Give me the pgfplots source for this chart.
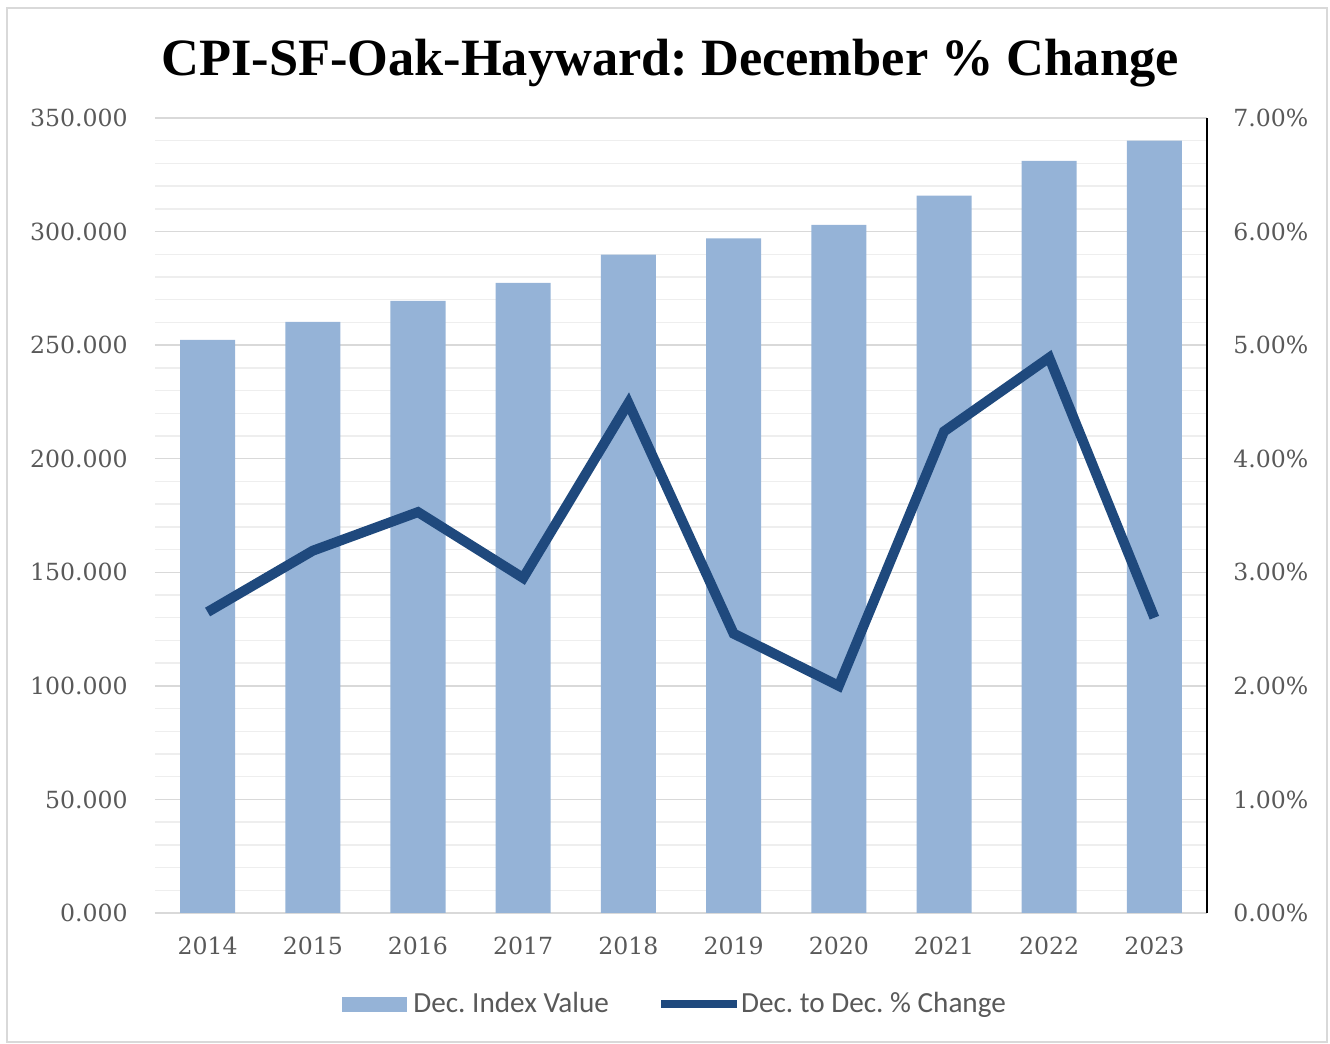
\documentclass[border=0pt]{standalone}
\usepackage{fontspec}
\setmainfont{DejaVu Serif}
\newfontfamily\titlefont{Liberation Serif}
\newfontfamily\legfont{Carlito}
\usepackage{pgfplots}
\pgfplotsset{compat=1.18}
\definecolor{barblue}{HTML}{95B3D7}
\definecolor{lineblue}{HTML}{1F497D}
\definecolor{gridmaj}{HTML}{D9D9D9}
\definecolor{gridmin}{HTML}{EEEEEE}
\definecolor{ticktext}{HTML}{595959}
\frenchspacing
\begin{document}
\begin{tikzpicture}
\useasboundingbox (-77.5pt,-65.5pt) rectangle (587.5pt,456.5pt);
\draw[gridmaj, line width=0.9pt] (-74pt,-64.5pt) rectangle (586pt,452.5pt);
\node[font=\titlefont\fontsize{26.2}{30}\selectfont\bfseries, anchor=center] at (257.5pt,425pt) {CPI-SF-Oak-Hayward: December \% Change};
\begin{axis}[
  scale only axis, width=526pt, height=397.5pt,
  xmin=-0.5, xmax=9.5, ymin=0, ymax=350,
  xtick={0,1,2,3,4,5,6,7,8,9},
  xticklabels={2014,2015,2016,2017,2018,2019,2020,2021,2022,2023},
  ytick={0,50,100,150,200,250,300,350},
  minor y tick num=4,
  ymajorgrids, yminorgrids,
  major grid style={draw=gridmaj, line width=0.75pt},
  minor grid style={draw=gridmin, line width=0.75pt},
  axis x line*=bottom, axis y line*=left,
  x axis line style={draw=gridmaj, line width=0.75pt, -},
  y axis line style={draw=none},
  major tick length=0pt, minor tick length=0pt,
  tick style={draw=none},
  /pgf/number format/assume math mode=true,
  yticklabel={\pgfmathprintnumber[fixed,fixed zerofill,precision=3]{\tick}},
  ticklabel style={font=\fontsize{11.8}{14}\selectfont, text=ticktext, inner sep=0pt},
  yticklabel style={anchor=east, xshift=-13.5pt},
  xticklabel style={anchor=center, yshift=-16.5pt},
]
\addplot[ybar, bar width=27.5pt, fill=barblue, draw=none] coordinates {
 (0,252.273) (1,260.289) (2,269.483) (3,277.414) (4,289.896)
 (5,297.007) (6,302.949) (7,315.805) (8,331.073) (9,339.993)};
\end{axis}
\begin{axis}[
  scale only axis, width=526pt, height=397.5pt,
  xmin=-0.5, xmax=9.5, ymin=0, ymax=7,
  axis x line=none, axis y line*=right,
  y axis line style={draw=black, line width=1pt, -},
  ytick={0,1,2,3,4,5,6,7},
  major tick length=0pt, minor tick length=0pt,
  tick style={draw=none},
  /pgf/number format/assume math mode=true,
  yticklabel={\pgfmathprintnumber[fixed,fixed zerofill,precision=2]{\tick}\%},
  ticklabel style={font=\fontsize{11.8}{14}\selectfont, text=ticktext, inner sep=0pt},
  yticklabel style={anchor=west, xshift=13pt},
  legend style={at={(0.495,-0.1145)}, anchor=center, draw=none, fill=none,
    legend columns=2, font=\legfont\fontsize{14.6}{17}\selectfont, text=ticktext,
    /tikz/every even column/.append style={column sep=22pt}},
]
\addlegendimage{legend image code/.code={\fill[barblue] (0pt,-3.5pt) rectangle (32pt,3.5pt);}}
\addlegendentry{\hspace*{1.5pt}Dec. Index Value}
\addplot[draw=lineblue, line width=5pt, line join=miter, mark=none,
  legend image code/.code={\draw[lineblue, line width=4pt] (0pt,0pt) -- (38pt,0pt);}] coordinates {
 (0,2.65) (1,3.19) (2,3.53) (3,2.95) (4,4.49)
 (5,2.46) (6,2.00) (7,4.24) (8,4.89) (9,2.60)};
\addlegendentry{\hspace*{-2pt}Dec. to Dec. \% Change}
\end{axis}
\end{tikzpicture}
\end{document}
